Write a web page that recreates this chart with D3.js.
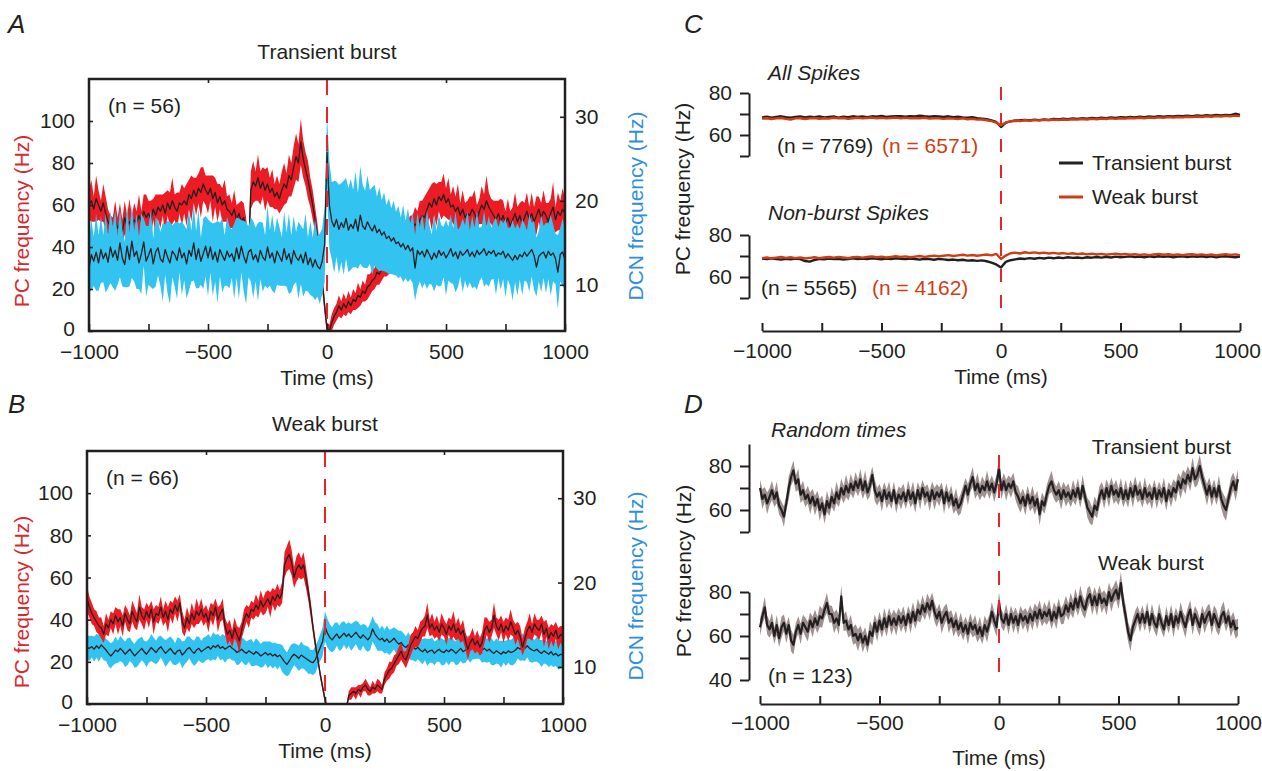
<!DOCTYPE html>
<html>
<head>
<meta charset="utf-8">
<script src="https://cdn.jsdelivr.net/npm/d3@7"></script>
<style>
  body { margin: 0; background: #fff; }
  svg text { font-family: "Liberation Sans", Arial, Helvetica, sans-serif; fill: #231f20; }
</style>
</head>
<body>
<svg id="fig" width="1262" height="771"></svg>
<script>
// ---------- sample times (ms) ----------
const timesFine = d3.range(-1000, 1001, 10);   // 201 bins, panels A, B, D
const timesCoarse = d3.range(-1000, 1001, 20); // 101 bins, panel C

// ---------- Panel A: transient burst (n = 56) ----------
const transientPcMean = [
  60, 62, 58, 63, 60, 57, 61, 56, 52, 50,
  48, 53, 49, 51, 47, 54, 50, 52, 49, 53,
  51, 55, 52, 57, 54, 56, 53, 58, 55, 59,
  57, 60, 56, 61, 58, 62, 59, 57, 61, 60,
  62, 60, 65, 63, 67, 64, 68, 66, 70, 67,
  65, 68, 63, 66, 61, 64, 60, 62, 58, 57,
  55, 58, 53, 56, 52, 54, 48, 36, 67, 71,
  69, 73, 68, 71, 67, 70, 66, 68, 64, 66,
  63, 67, 70, 68, 74, 72, 78, 83, 80, 90,
  82, 77, 72, 66, 60, 53, 45, 35, 24, 12,
  1, 0, 4, 7, 9, 12, 10, 13, 11, 14,
  12, 15, 14, 17, 16, 19, 18, 21, 22, 24,
  25, 28, 27, 30, 32, 31, 34, 36, 38, 40,
  41, 43, 42, 45, 47, 46, 49, 51, 50, 53,
  55, 54, 58, 61, 59, 63, 60, 64, 62, 65,
  61, 63, 59, 60, 57, 59, 55, 58, 54, 56,
  55, 58, 56, 53, 57, 60, 58, 62, 59, 57,
  55, 53, 56, 52, 55, 51, 54, 50, 53, 56,
  52, 55, 51, 54, 57, 53, 56, 52, 55, 58,
  54, 57, 55, 52, 56, 59, 53, 57, 55, 58,
  56
];
const transientPcSem = [
  7, 10, 6, 11, 7, 5, 9, 8, 6, 5,
  6, 9, 5, 10, 6, 8, 5, 11, 6, 8,
  6, 10, 5, 8, 11, 6, 9, 5, 10, 6,
  8, 5, 10, 6, 8, 11, 6, 9, 5, 10,
  6, 10, 7, 11, 6, 9, 7, 12, 8, 7,
  9, 6, 11, 7, 9, 6, 8, 10, 6, 8,
  6, 9, 7, 5, 10, 7, 6, 8, 9, 10,
  7, 11, 8, 7, 10, 8, 7, 9, 6, 8,
  7, 9, 10, 7, 10, 8, 10, 11, 9, 11,
  9, 8, 9, 7, 7, 6, 6, 5, 5, 4,
  3, 3, 4, 4, 4, 5, 4, 5, 4, 5,
  4, 5, 4, 6, 4, 5, 4, 6, 5, 5,
  5, 6, 5, 6, 6, 5, 7, 6, 6, 7,
  6, 8, 6, 8, 6, 9, 6, 8, 7, 9,
  7, 10, 8, 7, 11, 8, 10, 7, 9, 10,
  7, 10, 6, 9, 7, 11, 6, 9, 7, 6,
  9, 6, 11, 7, 6, 9, 7, 12, 7, 6,
  7, 9, 6, 11, 7, 6, 9, 7, 6, 10,
  7, 6, 11, 7, 9, 6, 10, 7, 9, 6,
  7, 10, 6, 9, 7, 12, 6, 9, 7, 10,
  7
];
const transientDcnMean = [
  12.0, 13.6, 12.8, 13.9, 12.6, 14.2, 13.1, 13.8, 12.7, 14.5,
  13.3, 14.1, 12.9, 15.0, 13.2, 12.4, 14.6, 13.0, 15.2, 13.4,
  14.0, 12.6, 13.7, 15.1, 12.8, 13.5, 14.3, 12.5, 13.9, 14.4,
  13.1, 12.7, 14.2, 13.3, 12.6, 14.0, 13.6, 12.9, 14.4, 13.2,
  13.8, 12.5, 14.1, 13.4, 15.0, 13.0, 14.3, 12.8, 13.7, 14.6,
  13.2, 14.5, 13.0, 13.9, 12.7, 14.2, 13.5, 12.9, 14.0, 13.3,
  13.7, 12.8, 14.4, 13.1, 14.6, 13.4, 12.6, 13.9, 14.2, 13.0,
  13.6, 12.7, 14.1, 13.3, 12.9, 14.5, 13.2, 13.8, 12.6, 14.0,
  13.4, 12.8, 14.3, 13.0, 13.7, 12.5, 14.1, 13.3, 12.9, 13.6,
  12.6, 13.9, 12.4, 13.2, 12.1, 13.0, 12.2, 11.9, 12.8, 14.8,
  25.8, 19.5, 17.6, 16.9, 17.8, 16.6, 17.4, 16.8, 17.9, 16.5,
  17.2, 16.7, 17.8, 16.4, 18.3, 17.0, 16.6, 17.5, 16.9, 16.4,
  17.1, 16.2, 16.6, 15.9, 16.3, 15.5, 15.8, 15.2, 15.6, 14.9,
  15.1, 14.5, 14.9, 14.2, 14.7, 14.0, 14.4, 12.0, 14.1, 13.6,
  14.0, 13.3, 14.2, 13.6, 13.0, 13.8, 13.2, 14.1, 13.5, 13.9,
  13.2, 13.7, 14.3, 13.4, 13.9, 13.1, 14.0, 13.5, 13.8, 14.2,
  13.4, 13.9, 13.3, 14.1, 13.6, 13.9, 14.3, 13.5, 14.0, 13.7,
  14.1, 13.4, 13.8, 13.6, 14.0, 13.2, 13.7, 13.3, 12.9, 13.5,
  13.0, 13.6, 13.3, 13.9, 13.4, 13.8, 14.2, 13.5, 12.1, 13.4,
  13.7, 13.9, 13.2, 14.0, 13.5, 13.8, 13.1, 11.5, 13.6, 13.9,
  13.0
];
const transientDcnSem = [
  3.0, 4.2, 2.9, 4.6, 3.3, 4.0, 2.8, 4.7, 3.1, 4.3,
  3.6, 4.8, 2.9, 4.1, 3.4, 2.7, 4.9, 3.2, 4.4, 3.0,
  4.5, 3.1, 4.8, 2.8, 4.2, 3.5, 4.6, 3.0, 4.1, 3.3,
  3.2, 4.7, 3.0, 4.3, 4.9, 3.1, 3.8, 4.6, 2.9, 4.4,
  3.3, 4.1, 4.8, 3.0, 4.5, 3.4, 4.7, 2.8, 4.2, 3.6,
  4.6, 3.0, 4.3, 3.5, 4.9, 3.2, 4.4, 3.0, 4.1, 3.7,
  2.9, 4.5, 3.6, 4.8, 3.1, 4.2, 4.9, 3.0, 3.8, 4.6,
  3.2, 4.7, 3.4, 4.1, 3.0, 4.9, 3.3, 4.5, 3.6, 4.0,
  3.5, 2.9, 4.4, 3.2, 4.8, 3.4, 4.1, 3.0, 4.6, 3.5,
  4.0, 4.6, 3.2, 4.4, 3.5, 4.8, 3.6, 4.2, 3.9, 4.5,
  4.4, 5.2, 4.6, 5.5, 4.5, 5.3, 4.7, 5.6, 4.8, 5.0,
  5.4, 4.6, 5.7, 4.5, 5.8, 4.9, 4.6, 5.5, 4.4, 5.2,
  4.8, 4.3, 5.0, 4.2, 4.7, 4.0, 4.5, 3.9, 4.4, 3.8,
  4.3, 3.5, 4.6, 3.4, 4.4, 3.3, 4.2, 3.9, 4.5, 3.2,
  4.4, 3.1, 4.7, 3.5, 3.0, 4.6, 3.2, 4.3, 3.6, 3.0,
  4.5, 3.2, 4.1, 3.3, 4.8, 3.4, 3.0, 4.4, 3.3, 4.6,
  3.1, 4.3, 3.5, 4.7, 3.2, 3.0, 4.5, 3.4, 4.2, 3.1,
  3.4, 4.6, 3.0, 4.2, 3.3, 4.7, 3.1, 3.5, 4.8, 3.2,
  4.3, 3.0, 4.5, 3.4, 3.1, 4.6, 3.2, 4.1, 3.5, 3.0,
  4.6, 3.1, 4.2, 3.3, 4.8, 3.4, 3.0, 4.4, 3.2, 4.0,
  3.6
];

// ---------- Panel B: weak burst (n = 66) ----------
const weakPcMean = [
  50, 46, 43, 41, 39, 37, 36, 33, 38, 36,
  40, 38, 42, 39, 41, 37, 43, 40, 38, 44,
  41, 39, 46, 42, 40, 44, 41, 45, 39, 43,
  42, 46, 41, 44, 40, 45, 43, 47, 44, 48,
  39, 36, 41, 38, 43, 40, 44, 42, 45, 41,
  43, 39, 44, 42, 46, 40, 43, 45, 37, 33,
  35, 31, 36, 33, 30, 35, 40, 43, 41, 45,
  44, 47, 45, 49, 46, 48, 50, 47, 51, 49,
  52, 50, 53, 66, 69, 71, 67, 60, 64, 66,
  64, 66, 60, 53, 45, 36, 28, 21, 14, 8,
  2, -3, -6, -6, -6, -6, -6, -6, -6, -2,
  4, 5, 6, 5, 7, 6, 8, 9, 7, 6,
  8, 7, 9, 8, 7, 12, 14, 16, 17, 19,
  21, 23, 25, 22, 21, 24, 28, 30, 32, 31,
  34, 36, 37, 42, 36, 38, 35, 37, 34, 38,
  36, 33, 37, 35, 38, 34, 36, 33, 35, 30,
  26, 29, 31, 28, 30, 27, 29, 35, 37, 34,
  36, 42, 37, 35, 38, 34, 37, 35, 39, 36,
  33, 35, 32, 27, 31, 35, 37, 34, 38, 36,
  35, 38, 33, 36, 31, 34, 32, 35, 31, 33,
  32
];
const weakPcSem = [
  6, 5, 5, 4, 5, 4, 5, 4, 5, 4,
  4, 5, 4, 6, 4, 5, 4, 5, 4, 5,
  5, 4, 6, 4, 5, 4, 5, 4, 6, 4,
  4, 5, 4, 5, 6, 4, 5, 4, 5, 4,
  5, 4, 5, 4, 5, 4, 6, 4, 5, 4,
  4, 5, 4, 5, 4, 6, 4, 5, 4, 5,
  5, 4, 5, 4, 6, 4, 5, 4, 5, 4,
  4, 5, 4, 5, 4, 5, 4, 6, 4, 5,
  5, 4, 5, 6, 6, 7, 6, 5, 6, 6,
  5, 6, 5, 4, 4, 3, 3, 2, 2, 2,
  2, 2, 2, 2, 2, 2, 2, 2, 2, 2,
  2, 3, 2, 3, 2, 3, 2, 3, 3, 2,
  3, 2, 3, 3, 2, 3, 3, 4, 3, 4,
  3, 4, 4, 3, 4, 4, 5, 4, 5, 4,
  5, 4, 5, 6, 4, 5, 4, 5, 4, 5,
  4, 5, 4, 5, 6, 4, 5, 4, 5, 4,
  5, 4, 5, 4, 5, 4, 5, 6, 4, 5,
  4, 6, 4, 5, 4, 5, 4, 5, 6, 4,
  5, 4, 5, 4, 5, 4, 6, 4, 5, 4,
  5, 4, 6, 4, 5, 4, 5, 4, 5, 4,
  5
];
const weakDcnMean = [
  12.3, 12.2, 12.4, 12.1, 12.5, 12.2, 12.6, 12.3, 12.0, 11.6,
  11.3, 11.6, 12.0, 11.8, 12.2, 11.9, 11.5, 11.8, 12.1, 11.7,
  11.3, 11.6, 11.9, 12.2, 11.8, 11.5, 11.9, 12.3, 12.0, 11.7,
  12.1, 12.4, 12.0, 11.6, 11.9, 12.2, 11.8, 11.5, 11.9, 12.0,
  11.4, 11.7, 12.1, 12.3, 11.9, 11.6, 12.0, 12.2, 11.8, 12.0,
  12.2, 12.4, 12.1, 12.5, 12.3, 12.6, 12.2, 12.4, 12.1, 12.3,
  12.5, 12.2, 12.0, 11.7, 11.9, 12.1, 11.8, 11.6, 11.9, 11.7,
  11.5, 11.8, 11.6, 11.3, 11.5, 11.7, 11.4, 11.6, 11.3, 11.5,
  11.2, 11.4, 11.0, 10.6, 10.3, 10.7, 11.2, 11.5, 11.3, 11.0,
  11.4, 11.2, 11.0, 10.8, 10.6, 10.5, 10.9, 11.6, 12.3, 13.0,
  14.8, 14.0, 13.5, 13.2, 13.6, 13.9, 13.4, 13.7, 14.0, 13.6,
  13.9, 13.5, 13.8, 14.1, 13.7, 13.4, 13.8, 13.5, 13.2, 13.6,
  14.5, 13.9, 13.5, 13.2, 13.4, 13.0, 13.3, 12.9, 13.1, 13.4,
  13.0, 12.7, 12.9, 12.5, 12.3, 12.6, 12.2, 12.4, 12.1, 12.3,
  12.0, 11.8, 12.1, 11.7, 11.9, 12.0, 11.6, 11.9, 12.1, 11.8,
  11.7, 12.0, 11.8, 12.1, 11.9, 11.6, 11.9, 12.2, 11.8, 12.0,
  12.3, 12.1, 12.4, 12.2, 12.5, 12.3, 12.0, 12.2, 11.9, 12.1,
  11.8, 11.6, 11.9, 11.7, 11.5, 11.8, 11.6, 11.9, 11.7, 11.8,
  12.0, 12.3, 12.1, 12.4, 12.2, 12.5, 12.2, 12.0, 11.9, 12.1,
  11.8, 11.6, 11.9, 11.7, 11.5, 11.8, 11.4, 11.6, 11.3, 11.5,
  11.4
];
const weakDcnSem = [
  1.4, 1.5, 1.3, 1.5, 1.4, 1.6, 1.4, 1.5, 1.3, 1.5,
  1.5, 1.4, 1.6, 1.3, 1.5, 1.4, 1.5, 1.6, 1.4, 1.3,
  1.4, 1.6, 1.5, 1.4, 1.3, 1.5, 1.4, 1.6, 1.5, 1.4,
  1.5, 1.3, 1.4, 1.6, 1.5, 1.4, 1.5, 1.3, 1.6, 1.4,
  1.6, 1.4, 1.5, 1.3, 1.4, 1.5, 1.6, 1.4, 1.3, 1.5,
  1.4, 1.5, 1.4, 1.6, 1.5, 1.3, 1.4, 1.5, 1.6, 1.4,
  1.5, 1.4, 1.3, 1.5, 1.6, 1.4, 1.5, 1.4, 1.3, 1.6,
  1.4, 1.6, 1.5, 1.4, 1.5, 1.3, 1.6, 1.4, 1.5, 1.4,
  1.5, 1.3, 1.6, 1.5, 1.4, 1.6, 1.5, 1.3, 1.4, 1.5,
  1.6, 1.4, 1.5, 1.6, 1.4, 1.5, 1.6, 1.5, 1.6, 1.7,
  1.8, 1.7, 1.6, 1.5, 1.6, 1.4, 1.5, 1.6, 1.4, 1.5,
  1.4, 1.6, 1.5, 1.4, 1.6, 1.5, 1.3, 1.5, 1.4, 1.6,
  1.5, 1.4, 1.6, 1.3, 1.5, 1.4, 1.6, 1.5, 1.4, 1.3,
  1.5, 1.6, 1.4, 1.5, 1.3, 1.5, 1.4, 1.6, 1.5, 1.4,
  1.4, 1.5, 1.3, 1.6, 1.4, 1.5, 1.4, 1.3, 1.5, 1.6,
  1.5, 1.4, 1.6, 1.5, 1.3, 1.4, 1.6, 1.5, 1.4, 1.5,
  1.4, 1.6, 1.5, 1.3, 1.5, 1.4, 1.5, 1.6, 1.4, 1.5,
  1.6, 1.4, 1.5, 1.4, 1.6, 1.3, 1.5, 1.4, 1.5, 1.6,
  1.5, 1.3, 1.4, 1.6, 1.5, 1.4, 1.6, 1.5, 1.3, 1.5,
  1.4, 1.6, 1.5, 1.4, 1.5, 1.6, 1.4, 1.5, 1.6, 1.7,
  1.5
];

// ---------- Panel C: spike-triggered PC rate (20 ms bins) ----------
const allTransient = [
  68.4, 68.7, 68.3, 68.6, 68.9, 68.5, 68.2, 68.6, 68.8, 68.4,
  68.7, 68.5, 68.9, 68.4, 68.6, 68.8, 68.3, 68.7, 68.5, 68.9,
  68.6, 68.8, 68.5, 68.9, 68.7, 69.1, 68.6, 68.8, 68.9, 69.0,
  68.7, 69.0, 68.8, 69.2, 68.9, 68.7, 69.0, 68.8, 68.6, 68.9,
  68.5, 68.7, 68.4, 68.2, 68.5, 68.0, 67.8, 67.5, 67.0, 66.2,
  63.8, 65.9, 66.5, 66.9, 67.0, 67.2, 66.9, 67.3, 67.1, 67.4,
  67.2, 67.6, 67.4, 67.8, 67.5, 67.9, 67.7, 68.0, 67.8, 68.1,
  67.9, 68.2, 68.0, 68.4, 68.1, 68.5, 68.3, 68.6, 68.4, 68.7,
  68.5, 68.8, 68.6, 68.9, 68.7, 69.0, 68.8, 69.1, 68.9, 69.2,
  69.0, 69.3, 69.1, 69.4, 69.2, 69.5, 69.3, 69.6, 69.4, 70.1,
  69.6
];
const allWeak = [
  67.8, 68.0, 67.6, 67.9, 68.1, 67.7, 67.4, 67.9, 68.0, 67.6,
  67.9, 68.1, 67.7, 68.0, 67.8, 68.2, 67.9, 68.1, 67.7, 68.0,
  68.2, 67.9, 68.1, 68.3, 68.0, 68.2, 67.9, 68.1, 68.3, 68.0,
  68.2, 67.9, 68.1, 68.0, 68.2, 67.8, 68.0, 67.9, 67.7, 67.9,
  67.8, 67.6, 67.9, 67.5, 67.7, 67.3, 67.4, 67.0, 66.6, 65.9,
  64.6, 66.0, 66.5, 66.8, 66.6, 67.0, 66.8, 67.1, 66.9, 67.2,
  67.0, 67.3, 67.1, 67.4, 67.2, 67.5, 67.3, 67.6, 67.4, 67.7,
  67.5, 67.8, 67.6, 67.9, 67.7, 68.0, 67.8, 68.1, 67.9, 68.2,
  68.0, 68.3, 68.1, 68.4, 68.2, 68.5, 68.3, 68.6, 68.4, 68.7,
  68.5, 68.8, 68.6, 68.9, 68.7, 69.0, 68.8, 69.1, 68.9, 69.2,
  69.0
];
const nonBurstTransient = [
  68.8, 68.5, 68.9, 68.6, 68.3, 68.7, 68.4, 68.8, 68.5, 67.6,
  67.3, 68.1, 68.6, 68.4, 68.8, 68.5, 68.7, 68.3, 68.6, 68.9,
  68.6, 68.8, 68.5, 68.9, 68.7, 68.4, 68.8, 68.6, 68.9, 68.7,
  68.5, 68.8, 68.6, 68.3, 68.7, 68.5, 68.2, 68.6, 68.4, 68.1,
  68.3, 68.0, 68.2, 67.8, 68.0, 67.7, 67.9, 67.5, 66.8, 66.0,
  64.5, 67.2, 68.0, 68.4, 68.8, 68.6, 69.0, 68.7, 69.1, 68.8,
  69.2, 68.9, 69.3, 69.0, 69.4, 69.1, 69.3, 69.0, 69.4, 69.2,
  69.5, 69.2, 69.6, 69.3, 69.7, 69.4, 69.6, 69.8, 69.5, 69.7,
  69.4, 69.8, 69.5, 69.9, 69.6, 69.8, 69.4, 69.7, 69.9, 69.5,
  69.8, 69.6, 69.9, 69.5, 69.8, 69.4, 69.7, 69.9, 69.6, 69.4,
  69.7
];
const nonBurstWeak = [
  69.0, 69.3, 68.9, 69.2, 69.5, 69.1, 69.4, 69.0, 69.3, 68.8,
  69.1, 69.4, 69.0, 69.3, 69.5, 69.2, 69.6, 69.3, 69.0, 69.4,
  69.6, 69.2, 69.5, 69.8, 69.4, 69.7, 69.3, 69.6, 69.9, 69.5,
  69.8, 69.4, 69.7, 70.0, 69.6, 69.9, 70.2, 69.8, 70.1, 70.4,
  70.0, 70.3, 70.6, 70.2, 70.5, 70.1, 70.4, 70.7, 70.3, 71.0,
  68.6, 70.2, 71.3, 71.6, 71.2, 71.8, 71.4, 71.7, 71.3, 71.6,
  71.2, 71.5, 71.1, 71.4, 71.0, 71.3, 70.9, 71.2, 70.8, 71.1,
  70.7, 71.0, 70.6, 70.9, 71.1, 70.7, 71.0, 70.6, 70.9, 70.5,
  70.8, 70.4, 70.7, 71.0, 70.6, 70.9, 70.5, 70.8, 70.4, 70.7,
  70.9, 70.5, 70.8, 70.4, 70.7, 70.3, 70.6, 70.9, 70.5, 70.8,
  70.4
];

// ---------- Panel D: random trigger times (n = 123) ----------
const randomTransientMean = [
  70, 65, 67, 63, 66, 69, 65, 68, 62, 60,
  57, 63, 70, 75, 78, 72, 74, 67, 69, 65,
  67, 63, 66, 62, 65, 60, 63, 58, 64, 61,
  66, 63, 68, 65, 70, 67, 71, 68, 72, 69,
  73, 70, 74, 69, 73, 68, 71, 76, 69, 66,
  68, 64, 69, 65, 68, 64, 69, 63, 67, 65,
  68, 64, 69, 65, 68, 63, 69, 65, 70, 66,
  68, 64, 69, 65, 68, 66, 69, 63, 68, 64,
  67, 62, 65, 61, 63, 67, 71, 67, 72, 75,
  69, 72, 68, 71, 69, 73, 69, 72, 68, 72,
  79, 69, 73, 69, 72, 70, 73, 68, 66, 63,
  66, 62, 67, 63, 66, 62, 65, 58, 64, 62,
  67, 71, 73, 69, 67, 69, 65, 69, 66, 68,
  65, 69, 66, 70, 65, 71, 66, 61, 59, 57,
  62, 60, 66, 69, 65, 70, 66, 71, 67, 69,
  66, 70, 65, 69, 65, 70, 66, 71, 67, 69,
  65, 70, 66, 68, 65, 70, 65, 69, 66, 70,
  64, 69, 66, 70, 68, 73, 70, 74, 72, 76,
  73, 79, 74, 76, 80, 75, 71, 67, 71, 66,
  70, 66, 71, 65, 62, 60, 65, 70, 73, 69,
  74
];
const randomTransientSem = [
  3.8, 4.6, 3.5, 4.9, 3.9, 4.4, 3.6, 5.0, 4.0, 3.7,
  4.7, 3.6, 5.1, 4.0, 4.5, 3.7, 4.9, 3.8, 4.4, 3.6,
  4.0, 4.9, 3.7, 4.5, 3.8, 5.0, 3.6, 4.3, 4.8, 3.7,
  4.5, 3.8, 4.9, 3.6, 4.3, 4.0, 5.1, 3.7, 4.5, 3.8,
  4.3, 3.7, 4.8, 4.0, 5.0, 3.6, 4.5, 3.8, 4.9, 4.0,
  3.8, 4.7, 3.7, 4.3, 4.9, 3.6, 4.0, 4.5, 3.7, 4.8,
  4.0, 3.6, 4.5, 3.8, 4.9, 4.3, 3.7, 4.8, 3.8, 4.4,
  3.7, 4.6, 4.0, 5.0, 3.8, 4.3, 3.6, 4.8, 4.0, 3.7,
  4.3, 3.8, 4.9, 3.7, 4.5, 4.0, 3.6, 4.8, 3.8, 4.5,
  4.0, 4.8, 3.7, 4.3, 3.8, 4.9, 4.0, 3.7, 4.5, 4.0,
  5.0, 4.3, 3.8, 4.8, 3.7, 4.5, 4.0, 3.8, 4.8, 4.3,
  3.8, 4.5, 4.0, 3.7, 4.9, 4.3, 3.8, 5.1, 4.0, 3.7,
  4.5, 3.8, 4.8, 4.0, 3.7, 4.3, 4.9, 3.8, 4.5, 4.0,
  3.7, 4.8, 3.8, 4.3, 4.0, 4.9, 3.7, 4.5, 5.0, 4.0,
  4.3, 3.8, 4.8, 3.7, 4.5, 4.0, 4.9, 3.8, 4.3, 4.8,
  3.8, 4.5, 3.7, 4.8, 4.0, 3.8, 4.9, 4.3, 3.7, 4.5,
  4.0, 4.9, 3.8, 4.3, 4.8, 3.7, 4.5, 4.0, 3.8, 4.8,
  4.3, 3.7, 4.8, 4.0, 4.5, 3.8, 4.9, 4.3, 4.8, 4.0,
  4.5, 5.0, 3.8, 4.8, 5.1, 4.3, 4.0, 4.9, 3.8, 4.5,
  4.0, 3.7, 4.8, 4.3, 5.0, 4.9, 3.8, 4.5, 4.0, 4.8,
  4.3
];
const randomWeakMean = [
  64, 69, 73, 65, 63, 66, 60, 65, 59, 64,
  66, 61, 65, 58, 56, 62, 65, 61, 66, 64,
  62, 67, 64, 68, 65, 69, 68, 72, 75, 70,
  70, 66, 68, 65, 78, 66, 67, 63, 65, 60,
  61, 58, 61, 57, 60, 56, 62, 60, 66, 62,
  67, 63, 68, 64, 69, 65, 68, 65, 69, 66,
  69, 65, 70, 66, 71, 67, 72, 70, 74, 71,
  75, 72, 76, 71, 68, 71, 66, 69, 71, 66,
  68, 64, 67, 63, 66, 62, 65, 61, 66, 63,
  65, 61, 64, 60, 65, 62, 66, 71, 67, 64,
  75, 68, 66, 70, 65, 70, 66, 69, 65, 70,
  67, 69, 66, 70, 67, 71, 68, 72, 68, 71,
  69, 72, 67, 71, 68, 73, 69, 70, 74, 71,
  75, 72, 77, 73, 78, 74, 72, 77, 79, 74,
  78, 74, 79, 75, 77, 74, 80, 76, 79, 81,
  77, 84, 75, 69, 62, 58, 64, 67, 70, 66,
  70, 66, 71, 65, 70, 66, 64, 70, 66, 63,
  69, 65, 70, 64, 69, 66, 71, 67, 64, 69,
  72, 65, 70, 67, 64, 70, 66, 69, 71, 65,
  70, 67, 64, 69, 71, 66, 69, 64, 67, 63,
  64
];
const randomWeakSem = [
  4.0, 3.7, 4.8, 4.3, 3.8, 4.6, 3.6, 4.5, 4.0, 4.9,
  3.8, 4.3, 3.7, 4.9, 4.5, 3.8, 4.0, 4.7, 3.7, 4.3,
  4.5, 3.8, 4.7, 4.0, 3.7, 4.9, 4.3, 3.8, 4.5, 4.0,
  3.7, 4.7, 4.0, 4.5, 5.1, 3.8, 4.3, 3.7, 4.7, 4.0,
  4.3, 4.9, 3.8, 4.5, 4.0, 3.7, 4.7, 4.3, 3.8, 4.5,
  4.0, 3.8, 4.7, 4.3, 3.7, 4.5, 4.0, 4.9, 3.8, 4.3,
  4.5, 4.0, 3.7, 4.7, 4.3, 3.8, 4.9, 4.0, 4.5, 3.7,
  4.3, 4.7, 3.8, 4.5, 4.0, 3.7, 4.9, 4.3, 3.8, 4.7,
  3.8, 4.3, 4.5, 3.7, 4.7, 4.0, 3.8, 4.9, 4.3, 3.7,
  4.5, 4.0, 4.7, 3.8, 4.3, 4.9, 3.7, 4.5, 4.0, 4.3,
  4.9, 4.0, 3.8, 4.5, 4.3, 3.7, 4.7, 4.0, 4.5, 3.8,
  4.3, 3.7, 4.7, 4.0, 4.5, 3.8, 4.9, 4.3, 3.7, 4.5,
  4.0, 4.7, 3.8, 4.3, 4.9, 4.0, 3.7, 4.5, 4.3, 3.8,
  4.7, 4.0, 4.5, 3.8, 4.9, 4.3, 4.0, 4.7, 3.8, 4.5,
  4.3, 4.9, 4.0, 4.5, 3.8, 4.7, 4.3, 5.0, 4.0, 4.5,
  4.7, 5.1, 4.3, 4.9, 4.5, 5.0, 4.0, 4.5, 3.8, 4.3,
  4.0, 3.7, 4.5, 4.0, 4.7, 3.8, 4.3, 4.9, 4.0, 3.7,
  4.5, 3.8, 4.3, 4.7, 4.0, 3.7, 4.5, 4.0, 4.9, 3.8,
  4.3, 4.7, 3.8, 4.5, 4.0, 3.7, 4.7, 4.3, 3.8, 4.5,
  4.0, 4.9, 3.8, 4.3, 4.7, 4.0, 3.7, 4.5, 4.0, 4.3,
  3.8
];

// ---------- tick values ----------
const timeTicks = [-1000, -750, -500, -250, 0, 250, 500, 750, 1000];
const timeLabels = [-1000, -500, 0, 500, 1000];
const pcTicksAB = [0, 20, 40, 60, 80, 100];
const dcnTicksAB = [10, 20, 30];

// ---------- colours ----------
const INK = "#231f20";
const RED_BAND = "#ed1c24";
const CYAN_BAND = "#33c3f0";
const PC_LABEL = "#d52a30";
const DCN_LABEL = "#2f8fdc";
const WEAK_ORANGE = "#cf3e12";
const GREY_BAND = "#a09191";
const MARK_RED = "#e8232b";
const FONT = 21;

const svg = d3.select("#fig");
const fmtTime = d => timeLabels.includes(d) ? d3.format("d")(d).replace("-", "\u2212") : "";

function addText(x, y, str, opts = {}) {
  const t = svg.append("text")
    .attr("x", x).attr("y", y)
    .attr("font-size", opts.size || FONT)
    .attr("text-anchor", opts.anchor || "start")
    .text(str);
  if (opts.italic) t.attr("font-style", "italic");
  if (opts.fill) t.style("fill", opts.fill);
  if (opts.rotate) t.attr("transform", `rotate(-90,${x},${y})`);
  return t;
}

function styleAxis(g, width) {
  g.selectAll("line").attr("stroke", INK).attr("stroke-width", width);
  g.selectAll("path.domain").attr("stroke", INK).attr("stroke-width", width);
  g.selectAll("text").attr("font-size", FONT).style("fill", INK)
    .attr("font-family", '"Liberation Sans", Arial, Helvetica, sans-serif');
}

// Box panel with PC rate (left axis) and DCN rate (right axis)
function burstPanel(cfg) {
  const x = d3.scaleLinear().domain([-1000, 1000]).range([cfg.left, cfg.right]);
  const yPc = d3.scaleLinear().domain([0, 120]).range([cfg.bottom, cfg.top]);
  const yDcn = d3.scaleLinear().domain(cfg.dcnDomain).range([cfg.bottom, cfg.top]);

  const clipId = "clip" + cfg.id;
  svg.append("clipPath").attr("id", clipId).append("rect")
    .attr("x", cfg.left).attr("y", cfg.top)
    .attr("width", cfg.right - cfg.left).attr("height", cfg.bottom - cfg.top);
  const plot = svg.append("g").attr("clip-path", `url(#${clipId})`);

  const pcRows = timesFine.map((t, i) => ({ t, m: cfg.pcMean[i], s: cfg.pcSem[i] }));
  const dcnRows = timesFine.map((t, i) => ({ t, m: cfg.dcnMean[i], s: cfg.dcnSem[i] }));

  const pcArea = d3.area().x(d => x(d.t)).y0(d => yPc(d.m - d.s)).y1(d => yPc(d.m + d.s));
  const pcLine = d3.line().x(d => x(d.t)).y(d => yPc(d.m));
  const dcnArea = d3.area().x(d => x(d.t)).y0(d => yDcn(d.m - d.s)).y1(d => yDcn(d.m + d.s));
  const dcnLine = d3.line().x(d => x(d.t)).y(d => yDcn(d.m));

  const layers = {
    pcBand: () => plot.append("path").datum(pcRows).attr("d", pcArea).attr("fill", RED_BAND),
    pcLine: () => plot.append("path").datum(pcRows).attr("d", pcLine)
      .attr("fill", "none").attr("stroke", INK).attr("stroke-width", 1.3).attr("stroke-linejoin", "round"),
    dcnBand: () => plot.append("path").datum(dcnRows).attr("d", dcnArea).attr("fill", CYAN_BAND),
    dcnLine: () => plot.append("path").datum(dcnRows).attr("d", dcnLine)
      .attr("fill", "none").attr("stroke", INK).attr("stroke-width", 1.3).attr("stroke-linejoin", "round")
  };
  cfg.order.forEach(k => layers[k]());

  // stimulus onset marker
  svg.append("line")
    .attr("x1", x(0)).attr("x2", x(0)).attr("y1", cfg.top).attr("y2", cfg.bottom)
    .attr("stroke", MARK_RED).attr("stroke-width", 2).attr("stroke-dasharray", "16 12");

  // frame
  svg.append("rect")
    .attr("x", cfg.left).attr("y", cfg.top)
    .attr("width", cfg.right - cfg.left).attr("height", cfg.bottom - cfg.top)
    .attr("fill", "none").attr("stroke", INK).attr("stroke-width", 2.5);

  const gb = svg.append("g").attr("transform", `translate(0,${cfg.bottom})`)
    .call(d3.axisBottom(x).tickValues(timeTicks).tickSize(-7).tickPadding(13).tickFormat(fmtTime));
  gb.select(".domain").remove();
  styleAxis(gb, 1.6);

  const gt = svg.append("g").attr("transform", `translate(0,${cfg.top})`)
    .call(d3.axisTop(x).tickValues([-500, 500]).tickSize(-4).tickFormat(""));
  gt.select(".domain").remove();
  styleAxis(gt, 1.6);

  const gl = svg.append("g").attr("transform", `translate(${cfg.left},0)`)
    .call(d3.axisLeft(yPc).tickValues(pcTicksAB).tickSize(-4).tickPadding(14));
  gl.select(".domain").remove();
  styleAxis(gl, 1.6);
  // lift the zero label a touch so it clears the time labels
  gl.selectAll(".tick").filter(d => d === 0).select("text").attr("dy", "0.2em");

  const gr = svg.append("g").attr("transform", `translate(${cfg.right},0)`)
    .call(d3.axisRight(yDcn).tickValues(dcnTicksAB).tickSize(-5).tickPadding(10));
  gr.select(".domain").remove();
  styleAxis(gr, 1.6);

  const mid = (cfg.left + cfg.right) / 2;
  addText(mid, cfg.top - 20, cfg.title, { anchor: "middle" });
  addText(cfg.left + 19, cfg.top + 34, cfg.nLabel);
  addText(mid, cfg.bottom + 54, "Time (ms)", { anchor: "middle" });
  addText(29, cfg.pcLabelY, "PC frequency (Hz)", { anchor: "middle", rotate: true, fill: PC_LABEL });
  addText(643, cfg.dcnLabelY, "DCN frequency (Hz)", { anchor: "middle", rotate: true, fill: DCN_LABEL });
  addText(8, cfg.letterY, cfg.letter, { italic: true, size: 26 });
}

burstPanel({
  id: "A", letter: "A", letterY: 33, title: "Transient burst", nLabel: "(n = 56)",
  left: 89, right: 565, top: 79, bottom: 331, dcnDomain: [4.5, 34.5],
  pcMean: transientPcMean, pcSem: transientPcSem,
  dcnMean: transientDcnMean, dcnSem: transientDcnSem,
  order: ["pcBand", "pcLine", "dcnBand", "dcnLine"],
  pcLabelY: 221, dcnLabelY: 206
});

burstPanel({
  id: "B", letter: "B", letterY: 413, title: "Weak burst", nLabel: "(n = 66)",
  left: 87, right: 563, top: 451, bottom: 704, dcnDomain: [5.6, 35.6],
  pcMean: weakPcMean, pcSem: weakPcSem,
  dcnMean: weakDcnMean, dcnSem: weakDcnSem,
  order: ["dcnBand", "dcnLine", "pcBand", "pcLine"],
  pcLabelY: 602, dcnLabelY: 586
});

// ---------- Panel C ----------
(function panelC() {
  const x = d3.scaleLinear().domain([-1000, 1000]).range([762, 1240]);
  const yTop = d3.scaleLinear().domain([50, 80]).range([156, 93]);
  const yBot = d3.scaleLinear().domain([50, 80]).range([298, 235]);

  svg.append("line").attr("x1", x(0)).attr("x2", x(0)).attr("y1", 87).attr("y2", 316)
    .attr("stroke", MARK_RED).attr("stroke-width", 2).attr("stroke-dasharray", "13 13");

  const traces = [
    { y: yTop, v: allTransient, c: INK },
    { y: yTop, v: allWeak, c: WEAK_ORANGE },
    { y: yBot, v: nonBurstTransient, c: INK },
    { y: yBot, v: nonBurstWeak, c: WEAK_ORANGE }
  ];
  traces.forEach(tr => {
    const line = d3.line().x((d, i) => x(timesCoarse[i])).y(d => tr.y(d));
    svg.append("path").datum(tr.v).attr("d", line).attr("fill", "none")
      .attr("stroke", tr.c).attr("stroke-width", 2.4).attr("stroke-linejoin", "round");
  });

  [yTop, yBot].forEach(y => {
    const g = svg.append("g").attr("transform", "translate(749,0)")
      .call(d3.axisLeft(y).tickValues([50, 60, 70, 80]).tickSize(9).tickSizeOuter(0).tickPadding(8)
        .tickFormat(d => (d === 60 || d === 80) ? d : ""));
    styleAxis(g, 2);
  });

  const gx = svg.append("g").attr("transform", "translate(0,331)")
    .call(d3.axisBottom(x).tickValues(timeTicks).tickSize(-8).tickSizeOuter(0).tickPadding(12).tickFormat(fmtTime));
  styleAxis(gx, 2);
  gx.selectAll(".tick").filter(d => d === 1000).select("text").attr("dx", "-3");

  addText(684, 33, "C", { italic: true, size: 26 });
  addText(768, 80, "All Spikes", { italic: true });
  addText(768, 220, "Non-burst Spikes", { italic: true });
  addText(777, 153, "(n = 7769)");
  addText(882, 153, "(n = 6571)", { fill: WEAK_ORANGE });
  addText(761, 295, "(n = 5565)");
  addText(872, 295, "(n = 4162)", { fill: WEAK_ORANGE });
  addText(1001, 384, "Time (ms)", { anchor: "middle" });
  addText(690, 189, "PC frequency (Hz)", { anchor: "middle", rotate: true });

  // legend
  const legend = [
    { label: "Transient burst", c: INK, y: 163 },
    { label: "Weak burst", c: WEAK_ORANGE, y: 197 }
  ];
  legend.forEach(l => {
    svg.append("line").attr("x1", 1059).attr("x2", 1083).attr("y1", l.y).attr("y2", l.y)
      .attr("stroke", l.c).attr("stroke-width", 3);
    addText(1092, l.y + 7, l.label);
  });
})();

// ---------- Panel D ----------
(function panelD() {
  const x = d3.scaleLinear().domain([-1000, 1000]).range([760, 1238]);
  const yTop = d3.scaleLinear().domain([50, 90]).range([532, 444]);
  const yBot = d3.scaleLinear().domain([40, 80]).range([680, 592]);

  const groups = [
    { y: yTop, m: randomTransientMean, s: randomTransientSem },
    { y: yBot, m: randomWeakMean, s: randomWeakSem }
  ];
  groups.forEach(gp => {
    const rows = timesFine.map((t, i) => ({ t, m: gp.m[i], s: gp.s[i] }));
    svg.append("path").datum(rows)
      .attr("d", d3.area().x(d => x(d.t)).y0(d => gp.y(d.m - d.s)).y1(d => gp.y(d.m + d.s)))
      .attr("fill", GREY_BAND);
    svg.append("path").datum(rows)
      .attr("d", d3.line().x(d => x(d.t)).y(d => gp.y(d.m)))
      .attr("fill", "none").attr("stroke", INK).attr("stroke-width", 2.2).attr("stroke-linejoin", "round");
  });

  svg.append("line").attr("x1", x(0)).attr("x2", x(0)).attr("y1", 455).attr("y2", 683)
    .attr("stroke", MARK_RED).attr("stroke-width", 2).attr("stroke-dasharray", "14 15");

  const gTop = svg.append("g").attr("transform", "translate(749,0)")
    .call(d3.axisLeft(yTop).tickValues([50, 60, 70, 80]).tickSize(9).tickSizeOuter(0).tickPadding(8)
      .tickFormat(d => (d === 60 || d === 80) ? d : ""));
  styleAxis(gTop, 2);
  const gBot = svg.append("g").attr("transform", "translate(749,0)")
    .call(d3.axisLeft(yBot).tickValues([40, 50, 60, 70, 80]).tickSize(9).tickSizeOuter(0).tickPadding(8)
      .tickFormat(d => (d % 20 === 0) ? d : ""));
  styleAxis(gBot, 2);

  const gx = svg.append("g").attr("transform", "translate(0,704)")
    .call(d3.axisBottom(x).tickValues(timeTicks).tickSize(-8).tickSizeOuter(0).tickPadding(11).tickFormat(fmtTime));
  styleAxis(gx, 2);

  addText(684, 413, "D", { italic: true, size: 26 });
  addText(771, 437, "Random times", { italic: true });
  addText(1231, 454, "Transient burst", { anchor: "end" });
  addText(1098, 570, "Weak burst");
  addText(768, 683, "(n = 123)");
  addText(999, 765, "Time (ms)", { anchor: "middle" });
  addText(691, 571, "PC frequency (Hz)", { anchor: "middle", rotate: true });
})();
</script>
</body>
</html>
